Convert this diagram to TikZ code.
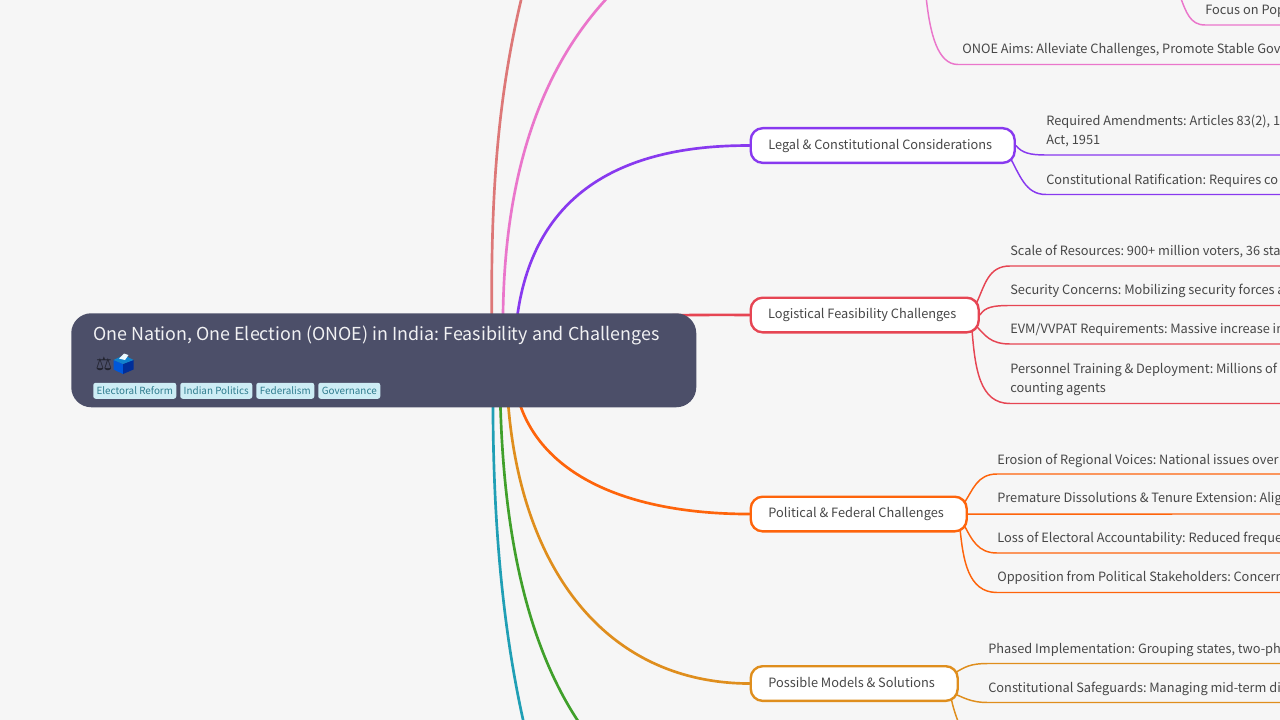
\documentclass[tikz,border=0pt]{standalone}
\usepackage{fontspec}
\setmainfont{Noto Sans CJK SC}
\newfontfamily\symfont{DejaVu Sans}
\usetikzlibrary{backgrounds}
\definecolor{pagebg}{HTML}{F6F6F6}
\definecolor{ink}{HTML}{4C4F69}
\definecolor{txt}{HTML}{474747}
\definecolor{cflamingo}{HTML}{DD7878}
\definecolor{cpink}{HTML}{EA76CB}
\definecolor{cmauve}{HTML}{8839EF}
\definecolor{cred}{HTML}{E64553}
\definecolor{cpeach}{HTML}{FE640B}
\definecolor{cyellow}{HTML}{DF8E1D}
\definecolor{cgreen}{HTML}{40A02B}
\definecolor{csapph}{HTML}{209FB5}
\definecolor{tagbg}{HTML}{CDEDF5}
\definecolor{tagink}{HTML}{2E7C8E}
\newcommand{\cl}{:\hspace{-0.8pt}}
\newcommand{\pad}{\hspace*{3.8pt}}
\tikzset{
  rootbox/.style={fill=ink,rounded corners=15pt,minimum width=468.75pt,minimum height=70.5pt,inner sep=0pt,anchor=north west},
  roottext/.style={text=white!92!ink,font=\fontsize{13.4}{18}\selectfont,anchor=west,inner sep=0pt},
  tagbox/.style={fill=tagbg,rounded corners=1.8pt,text=tagink,font=\fontsize{7.4}{10}\selectfont,inner sep=0pt,minimum height=12pt,anchor=north west},
  branch/.style={draw=#1,fill=white,line width=1.8pt,rounded corners=9pt,text=txt,font=\fontsize{9.6}{13}\selectfont,inner sep=0pt,text height=7.9pt,text depth=2.3pt,minimum height=26pt,anchor=north west},
  leaf/.style={text=txt,font=\fontsize{9.6}{14.25}\selectfont,inner sep=0pt,anchor=north west,align=left},
  mainedge/.style={draw=#1,line width=2pt,line cap=round},
  subedge/.style={draw=#1,line width=1.1pt},
}
\begin{document}
\begin{tikzpicture}[x=0.75pt,y=-0.75pt]
\useasboundingbox (0,0) rectangle (1280,720);
\clip (0,0) rectangle (1280,720);
% root
\node[rootbox] (root) at (71,313) {};
\node[roottext] (title) at (93,335.5) {One Nation, One Election (ONOE) in India\cl{} Feasibility and Challenges};
\node[text=ink!45!black,anchor=center,inner sep=0pt,font=\symfont\fontsize{14}{14}\selectfont] (scales) at (104,364) {⚖};
\fill[fill=blue!60!cyan!85!black] (113.5,360) -- (123,364) -- (123,374) -- (113.5,369.5) -- cycle;
\fill[fill=blue!70!cyan!60!black] (133.5,360) -- (123,364) -- (123,374) -- (133.5,369.5) -- cycle;
\fill[fill=cyan!65!blue] (113.5,360) -- (124,355) -- (133.5,360) -- (123,364) -- cycle;
\fill[fill=white!92!cyan] (119,358.5) -- (124,353.5) -- (128.5,355) -- (125,360) -- cycle;
\node[tagbox,minimum width=62.25pt] (t1) at (93,382.5) {Electoral Reform};
\node[tagbox,minimum width=54pt] (t2) at (180,382.5) {Indian Politics};
\node[tagbox,minimum width=43.5pt] (t3) at (256,382.5) {Federalism};
\node[tagbox,minimum width=46.5pt] (t4) at (318,382.5) {Governance};
% branches
\node[branch=cmauve,minimum width=198pt] (legal) at (749.5,127) {Legal \& Constitutional Considerations\pad};
\node[branch=cred,minimum width=171pt] (logi) at (749.5,296.5) {Logistical Feasibility Challenges\pad};
\node[branch=cpeach,minimum width=162pt] (poli) at (749.5,495.5) {Political \& Federal Challenges\pad};
\node[branch=cyellow,minimum width=155.25pt] (poss) at (749.5,665) {Possible Models \& Solutions\pad};
% leaves
\node[leaf] (pf) at (1205,4.5) {Focus on Pop};
\node[leaf] (pa) at (962,43.5) {ONOE Aims\cl{} Alleviate Challenges, Promote Stable Gov};
\node[leaf] (l1) at (1046,115) {Required Amendments\cl{} Articles 83(2), 1\\Act, 1951};
\node[leaf] (l2) at (1046,173.5) {Constitutional Ratification\cl{} Requires co};
\node[leaf] (g1) at (1010,245) {Scale of Resources\cl{} 900+ million voters, 36 sta};
\node[leaf] (g2) at (1010,284) {Security Concerns\cl{} Mobilizing security forces a};
\node[leaf] (g3) at (1010,323) {EVM/VVPAT Requirements\cl{} Massive increase in};
\node[leaf] (g4) at (1010,362.5) {Personnel Training \& Deployment\cl{} Millions of\\counting agents};
\node[leaf] (o1) at (997,453.5) {Erosion of Regional Voices\cl{} National issues over};
\node[leaf] (o2) at (997,492.5) {Premature Dissolutions \& Tenure Extension\cl{} Alig};
\node[leaf] (o3) at (997,531.5) {Loss of Electoral Accountability\cl{} Reduced freque};
\node[leaf] (o4) at (997,571) {Opposition from Political Stakeholders\cl{} Concern};
\node[leaf] (y1) at (988,643) {Phased Implementation\cl{} Grouping states, two-ph};
\node[leaf] (y2) at (988,682) {Constitutional Safeguards\cl{} Managing mid-term di};
% free ends
\coordinate (rflam) at (492,340);
\coordinate (rpink) at (503,340);
\coordinate (rmauve) at (515,340);
\coordinate (rred) at (620,316.5);
\coordinate (rpeach) at (515,385);
\coordinate (ryellow) at (507,385);
\coordinate (rgreen) at (500,385);
\coordinate (rsapph) at (493,385);
\coordinate (eflam) at (522,-4);
\coordinate (epink) at (609,-4);
\coordinate (egreen) at (580,724);
\coordinate (esapph) at (524,724);
\coordinate (eyellow) at (959,724);
\coordinate (ptop) at (926,-4);
\coordinate (ptopb) at (1180,-4);
\begin{scope}[on background layer]
\fill[pagebg] (0,0) rectangle (1280,720);
\draw[mainedge=cflamingo] (rflam) .. controls (490,200) and (497,100) .. (eflam);
\draw[mainedge=cpink] (rpink) .. controls (501,200) and (530,80) .. (epink);
\draw[mainedge=cmauve] (rmauve) .. controls (522,220) and (590,145) .. (legal.west);
\draw[mainedge=cred] (rred) .. controls (660,315.5) and (700,314.5) .. (logi.west);
\draw[mainedge=cpeach] (rpeach) .. controls (530,470) and (620,514) .. (poli.west);
\draw[mainedge=cyellow] (ryellow) .. controls (515,560) and (600,683) .. (poss.west);
\draw[mainedge=cgreen] (rgreen) .. controls (502,540) and (530,650) .. (egreen);
\draw[mainedge=csapph] (rsapph) .. controls (492,530) and (505,640) .. (esapph);
% pink leaves
\draw[subedge=cpink] (ptop) .. controls (930,35) and (938,64.5) .. (958,64.5) -- (1290,64.5);
\draw[subedge=cpink] (ptopb) .. controls (1186,12) and (1190,25) .. (1205,25) -- (1290,25);
% legal
\draw[subedge=cmauve] (legal.east) .. controls (1022,153) and (1030,155) .. (1046,155) -- (1290,155);
\draw[subedge=cmauve] ([xshift=-6pt,yshift=-6pt]legal.east) .. controls (1020,175) and (1025,194.5) .. (1046,194.5) -- (1290,194.5);
% logistics
\draw[subedge=cred] ([xshift=-3pt,yshift=8pt]logi.east) .. controls (985,285) and (988,266) .. (1010,266) -- (1290,266);
\draw[subedge=cred] (logi.east) .. controls (985,307) and (993,305.5) .. (1010,305.5) -- (1290,305.5);
\draw[subedge=cred] ([xshift=-3pt,yshift=-8pt]logi.east) .. controls (985,335) and (990,344) .. (1010,344) -- (1290,344);
\draw[subedge=cred] ([xshift=-6pt,yshift=-10pt]logi.east) .. controls (975,370) and (980,403.5) .. (1010,403.5) -- (1290,403.5);
% political
\draw[subedge=cpeach] ([xshift=-3pt,yshift=8pt]poli.east) .. controls (973,490) and (977,474) .. (997,474) -- (1290,474);
\draw[subedge=cpeach] (poli.east) -- (1290,514);
\draw[subedge=cpeach] ([xshift=-3pt,yshift=-8pt]poli.east) .. controls (972,540) and (978,553) .. (997,553) -- (1290,553);
\draw[subedge=cpeach] ([xshift=-6pt,yshift=-10pt]poli.east) .. controls (963,560) and (968,592.5) .. (997,592.5) -- (1290,592.5);
% possible
\draw[subedge=cyellow] ([xshift=-3pt,yshift=8pt]poss.east) .. controls (965,667) and (970,663.5) .. (988,663.5) -- (1290,663.5);
\draw[subedge=cyellow] ([xshift=-3pt,yshift=-8pt]poss.east) .. controls (963,697) and (970,702.5) .. (988,702.5) -- (1290,702.5);
\draw[subedge=cyellow] ([xshift=-6pt,yshift=-10pt]poss.east) .. controls (953,708) and (956,716) .. (eyellow);
\end{scope}
\end{tikzpicture}
\end{document}
